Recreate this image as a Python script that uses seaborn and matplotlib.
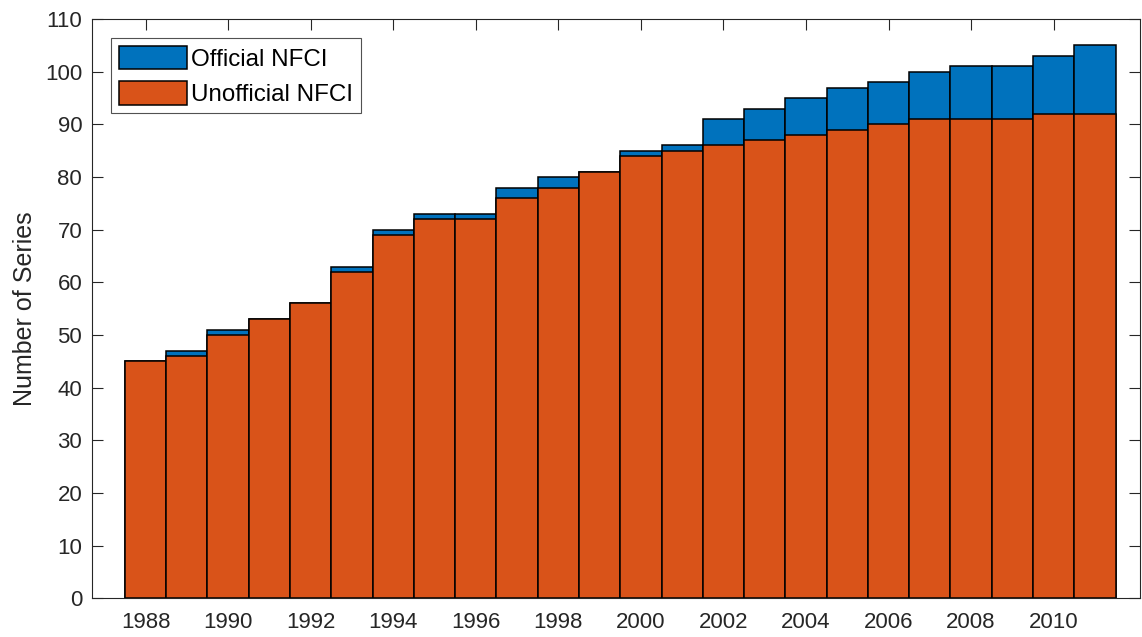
import matplotlib
matplotlib.use("Agg")
import matplotlib.pyplot as plt
import seaborn as sns
import pandas as pd

# series counts per year
years = list(range(1988, 2012))
unofficial = [45, 46, 50, 53, 56, 62, 69, 72, 72, 76, 78, 81,
              84, 85, 86, 87, 88, 89, 90, 91, 91, 91, 92, 92]
total = [45, 47, 51, 53, 56, 63, 70, 73, 73, 78, 80, 81,
         85, 86, 91, 93, 95, 97, 98, 100, 101, 101, 103, 105]
tick_years = list(range(1988, 2011, 2))
y_ticks = list(range(0, 111, 10))

df = pd.DataFrame({"year": years, "unofficial": unofficial, "total": total})

sns.set_style("white")
plt.rcParams['font.family'] = ['Liberation Sans', 'DejaVu Sans']
axcol = '#262626'

fig = plt.figure(figsize=(11.42, 6.37), dpi=100)
ax = fig.add_axes([0.0805, 0.061, 0.918, 0.909])

blue = '#0072BD'
orange = '#D95319'

# total (official) drawn behind, unofficial on top
sns.barplot(data=df, x="year", y="total", color=blue, width=1, native_scale=True,
            edgecolor='black', linewidth=1.1, saturation=1, ax=ax,
            label="Official NFCI")
sns.barplot(data=df, x="year", y="unofficial", color=orange, width=1, native_scale=True,
            edgecolor='black', linewidth=1.1, saturation=1, ax=ax,
            label="Unofficial NFCI")

ax.set_xlim(1986.7, 2012.1)
ax.set_ylim(0, 110)
ax.minorticks_off()
ax.set_xticks(tick_years)
ax.set_xticklabels([str(y) for y in tick_years])
ax.set_yticks(y_ticks)
ax.set_xlabel("")
ax.set_ylabel("Number of Series", fontsize=18, color=axcol, labelpad=6)

for s in ax.spines.values():
    s.set_visible(True)
    s.set_color(axcol)
    s.set_linewidth(0.8)
    s.set_zorder(5)
ax.tick_params(direction='in', length=8, width=0.8, color=axcol, labelcolor=axcol,
               labelsize=16, top=True, right=True, bottom=True, left=True)
ax.tick_params(axis='x', pad=10)
ax.tick_params(axis='y', pad=7)

leg = ax.legend(loc='upper left', fontsize=17.4, frameon=True, fancybox=False,
                edgecolor=axcol, handlelength=2.85, handleheight=1.1,
                borderpad=0.3, labelspacing=0.45, handletextpad=0.17,
                borderaxespad=0.8)
leg.get_frame().set_linewidth(0.8)
for t in leg.get_texts():
    t.set_color('black')

fig.savefig("out.png", dpi=100)
